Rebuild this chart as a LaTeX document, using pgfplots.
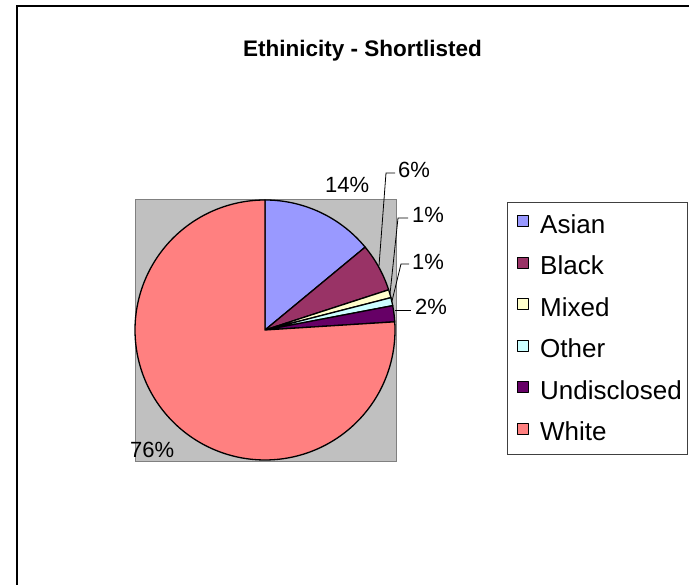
\documentclass[border=0pt]{standalone}
\usepackage{pgfplots}
\pgfplotsset{compat=1.18}
\usepackage{fontspec}
\setmainfont{Liberation Sans}
\definecolor{cAsian}{HTML}{9999FF}
\definecolor{cBlack}{HTML}{993366}
\definecolor{cMixed}{HTML}{FFFFCC}
\definecolor{cOther}{HTML}{CCFFFF}
\definecolor{cUnd}{HTML}{660066}
\definecolor{cWhite}{HTML}{FF8080}
\definecolor{cPlot}{HTML}{C0C0C0}
\begin{document}
\begin{tikzpicture}
% shares in percent
\def\pAsian{14}
\def\pBlack{6}
\def\pMixed{1}
\def\pOther{1}
\def\pUnd{2}
\def\pWhite{76}
% slice angles (clockwise from 12 o'clock)
\pgfmathsetmacro{\aA}{90}
\pgfmathsetmacro{\aB}{\aA-3.6*\pAsian}
\pgfmathsetmacro{\aC}{\aB-3.6*\pBlack}
\pgfmathsetmacro{\aD}{\aC-3.6*\pMixed}
\pgfmathsetmacro{\aE}{\aD-3.6*\pOther}
\pgfmathsetmacro{\aF}{\aE-3.6*\pUnd}
\pgfmathsetmacro{\aG}{\aF-3.6*\pWhite}
\begin{axis}[
  at={(0,0)}, anchor=south west,
  scale only axis, width=689pt, height=585pt,
  xmin=0, xmax=689, ymin=0, ymax=585,
  hide axis, clip=false,
  legend cell align=left,
  legend style={at={(0.74964,0.63248)}, anchor=north west, draw=none, fill=none,
    inner sep=0pt, column sep=0pt, row sep=18.5pt,
    font=\fontsize{26}{28}\selectfont,
    nodes={inner sep=0pt, text height=18pt, text depth=5pt}},
  legend image code/.code={\draw[#1, draw=black, line width=1pt] (0pt,0pt) rectangle (11pt,11pt); \path[draw=none, fill=none] (0pt,0pt) rectangle (23pt,1pt);},
]
% plot area
\fill[cPlot, draw=black!50, line width=1pt] (axis cs:135,123) rectangle (axis cs:396,385);
% legend box
\draw[black!75, line width=1pt, fill=white] (axis cs:507,130) rectangle (axis cs:687,382);
% slices
\addplot[fill=cAsian, draw=black, line width=1.3pt, line join=round, domain=\aB:\aA, samples=60] ({265+130*cos(x)},{255+130*sin(x)}) -- (axis cs:265,255) -- cycle;
\addlegendentry{Asian}
\addplot[fill=cBlack, draw=black, line width=1.3pt, line join=round, domain=\aC:\aB, samples=30] ({265+130*cos(x)},{255+130*sin(x)}) -- (axis cs:265,255) -- cycle;
\addlegendentry{Black}
\addplot[fill=cMixed, draw=black, line width=1.3pt, line join=round, domain=\aD:\aC, samples=8] ({265+130*cos(x)},{255+130*sin(x)}) -- (axis cs:265,255) -- cycle;
\addlegendentry{Mixed}
\addplot[fill=cOther, draw=black, line width=1.3pt, line join=round, domain=\aE:\aD, samples=8] ({265+130*cos(x)},{255+130*sin(x)}) -- (axis cs:265,255) -- cycle;
\addlegendentry{Other}
\addplot[fill=cUnd, draw=black, line width=1.3pt, line join=round, domain=\aF:\aE, samples=10] ({265+130*cos(x)},{255+130*sin(x)}) -- (axis cs:265,255) -- cycle;
\addlegendentry{Undisclosed}
\addplot[fill=cWhite, draw=black, line width=1.3pt, line join=round, domain=\aG:\aF, samples=180] ({265+130*cos(x)},{255+130*sin(x)}) -- (axis cs:265,255) -- cycle;
\addlegendentry{White}
% leader lines
\draw[black, line width=0.8pt] (axis cs:395,412) -- (axis cs:386,412) -- (axis cs:379,319);
\draw[black, line width=0.8pt] (axis cs:408,367) -- (axis cs:398,367) -- (axis cs:390,291);
\draw[black, line width=0.8pt] (axis cs:409,321) -- (axis cs:401,321) -- (axis cs:392,284);
\draw[black, line width=0.8pt] (axis cs:395,275) -- (axis cs:411,275);
% data labels
\begin{scope}[every node/.style={anchor=base west, inner sep=0pt, font=\fontsize{22}{24}\selectfont}]
\node at (axis cs:325,392) {14\%};
\node at (axis cs:398,407) {6\%};
\node at (axis cs:412,362) {1\%};
\node at (axis cs:412,315) {1\%};
\node at (axis cs:415,270) {2\%};
\node at (axis cs:130,127) {76\%};
\end{scope}
% title
\node[anchor=base, inner sep=0pt, font=\bfseries\fontsize{22.5}{26}\selectfont] at (axis cs:362.5,528) {Ethinicity - Shortlisted};
% chart frame (cut off at right and bottom)
\draw[black, line width=2pt] (axis cs:16.5,0) -- (axis cs:16.5,578.5) -- (axis cs:689,578.5);
\end{axis}
\pgfresetboundingbox
\useasboundingbox (0,0) rectangle (689pt,585pt);
\end{tikzpicture}
\end{document}
